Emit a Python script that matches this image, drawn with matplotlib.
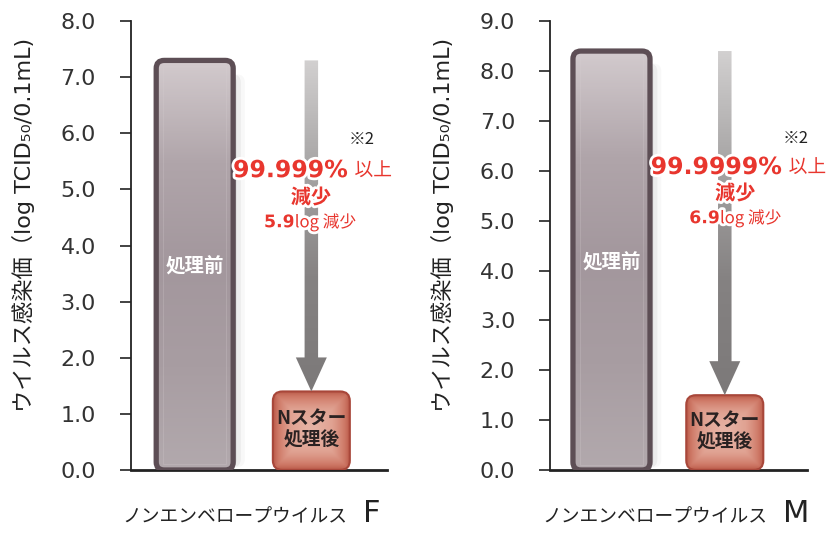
import numpy as np
import matplotlib.pyplot as plt
from matplotlib.patches import FancyBboxPatch, FancyArrow
from matplotlib.colors import LinearSegmentedColormap
import matplotlib.patheffects as pe

plt.rcParams['font.family'] = ['DejaVu Sans', 'Noto Sans CJK JP']
JP = ['Noto Sans CJK JP', 'DejaVu Sans']

# datos
viruses = ['F', 'M']
before = [7.3, 8.4]
after = [1.4, 1.5]
ymax = [8.0, 9.0]
pct_text = ['99.999%', '99.9999%']
log_text = ['5.9', '6.9']
xlabel_text = 'ノンエンベロープウイルス'
ylabel_text = 'ウイルス感染価（log TCID₅₀/0.1mL)'
bar_labels = ['処理前', 'Nスター\n処理後']

red = '#e8362e'
cm_bar1 = LinearSegmentedColormap.from_list('b1', ['#d2cacd', '#b0a5aa', '#a3979d', '#a89da2', '#b2a9ad'])
cm_arrow = LinearSegmentedColormap.from_list('ar', ['#d2d0d0', '#a6a4a4', '#858282', '#7c7979'])

fig = plt.figure(figsize=(8.27, 5.35), dpi=100)
axes = [fig.add_axes([0.158, 0.1215, 0.31, 0.839]),
        fig.add_axes([0.665, 0.1215, 0.311, 0.839])]
xlims = [(-0.549, 1.649), (-0.543, 1.727)]
barw = [0.66, 0.68]
txt_x = [0.703, 0.72]
pct_right = [0.848, 0.903]
pct_y = [0.668, 0.675]
mid_y = [0.608, 0.617]
log_y = [0.552, 0.561]
log_split = [0.64, 0.661]
note_pos = [(0.90, 0.737), (0.957, 0.739)]


def gradient_patch(ax, patch, img, cmap, extent, z):
    ax.add_patch(patch)
    im = ax.imshow(img, cmap=cmap, extent=extent, aspect='auto',
                   origin='upper', zorder=z, interpolation='bicubic')
    im.set_clip_path(patch)


for i, ax in enumerate(axes):
    ax.set_xlim(*xlims[i])
    ax.set_ylim(0, ymax[i])
    bb = ax.get_position()
    pxx = bb.width * 827 / (xlims[i][1] - xlims[i][0])
    pxy = bb.height * 535 / ymax[i]
    aspect = pxx / pxy
    w = barw[i]
    r = 8 / pxx

    # barra antes (gris)
    x0 = 0 - w / 2
    for k, a in enumerate([0.10, 0.07, 0.04]):
        sh = FancyBboxPatch((x0 + 0.03 + k * 0.035, 0.05), w, before[i] - 0.3,
                            boxstyle=f'round,pad=0,rounding_size={r}',
                            mutation_aspect=aspect, fc='#555555', ec='none',
                            alpha=a, zorder=1)
        ax.add_patch(sh)
    p1 = FancyBboxPatch((x0, 0), w, before[i],
                        boxstyle=f'round,pad=0,rounding_size={r}',
                        mutation_aspect=aspect, fc='none', ec='none', zorder=2)
    grad = np.linspace(0, 1, 200).reshape(-1, 1)
    gradient_patch(ax, p1, grad, cm_bar1, (x0, x0 + w, 0, before[i]), 2)
    ax.add_patch(FancyBboxPatch((x0, 0), w, before[i],
                                boxstyle=f'round,pad=0,rounding_size={r}',
                                mutation_aspect=aspect, fc='none',
                                ec='#5d4e55', lw=3.8, zorder=3))
    ax.add_patch(FancyBboxPatch((x0 + 0.06, 0.1), w - 0.12, before[i] - 0.2,
                                boxstyle='square,pad=0', fc='none',
                                ec='#d8d0d3', lw=0.5, alpha=0.35, zorder=3))

    # barra despues (roja)
    x1 = 1 - w / 2
    yy, xx = np.mgrid[0:1:120j, 0:1:120j]
    d = np.minimum(np.minimum(xx, 1 - xx) * 2.2, np.minimum(yy, 1 - yy) * 2.2)
    d = np.clip(d, 0, 1) ** 0.6
    cm_bar2 = LinearSegmentedColormap.from_list('b2', ['#b4503f', '#cf7a68', '#e0a292', '#e6b2a4'])
    p2 = FancyBboxPatch((x1, 0), w, after[i],
                        boxstyle=f'round,pad=0,rounding_size={r * 1.2}',
                        mutation_aspect=aspect, fc='none', ec='none', zorder=2)
    gradient_patch(ax, p2, d, cm_bar2, (x1, x1 + w, 0, after[i]), 2)
    ax.add_patch(FancyBboxPatch((x1, 0), w, after[i],
                                boxstyle=f'round,pad=0,rounding_size={r * 1.2}',
                                mutation_aspect=aspect, fc='none',
                                ec='#a8473a', lw=1.5, zorder=3))

    # flecha
    hl = 34 / pxy
    arr = FancyArrow(1, before[i], 0, -(before[i] - after[i]), width=13.5 / pxx,
                     head_width=31 / pxx, head_length=hl,
                     length_includes_head=True, fc='none', ec='none', zorder=4)
    gradient_patch(ax, arr, grad, cm_arrow, (0.5, 1.5, after[i], before[i]), 4)

    # textos
    ax.text(0, before[i] * 0.495, bar_labels[0], family=JP, fontsize=14,
            fontweight='bold', color='white', ha='center', va='center', zorder=5)
    ax.text(1, after[i] * 0.52, bar_labels[1], family=JP, fontsize=13.5,
            fontweight='bold', color='#2a2222', ha='center', va='center',
            linespacing=1.15, zorder=5)

    stroke = [pe.withStroke(linewidth=4, foreground='white')]
    ax.text(pct_right[i], pct_y[i], pct_text[i], transform=ax.transAxes,
            fontsize=17, fontweight='bold', color=red, ha='right', va='center',
            path_effects=stroke, zorder=6)
    ax.text(pct_right[i] + 0.025, pct_y[i], '以上', transform=ax.transAxes,
            family=JP, fontsize=13.5, color=red, ha='left', va='center',
            path_effects=stroke, zorder=6, clip_on=False)
    ax.text(txt_x[i], mid_y[i], '減少', transform=ax.transAxes, family=JP,
            fontsize=14.5, fontweight='bold', color=red, ha='center', va='center',
            path_effects=stroke, zorder=6)
    ax.text(log_split[i], log_y[i], log_text[i], transform=ax.transAxes,
            fontsize=12.5, fontweight='bold', color=red, ha='right', va='center',
            path_effects=stroke, zorder=6)
    ax.text(log_split[i], log_y[i], 'log 減少', transform=ax.transAxes,
            family=JP, fontsize=12, color=red, ha='left', va='center',
            path_effects=stroke, zorder=6)
    ax.text(*note_pos[i], '※2', transform=ax.transAxes, family=JP,
            fontsize=12, color='#222222', ha='center', va='center', zorder=6)

    # ejes
    ax.spines['top'].set_visible(False)
    ax.spines['right'].set_visible(False)
    ax.spines['left'].set_linewidth(1.3)
    ax.spines['bottom'].set_linewidth(2)
    ax.spines['left'].set_color('#222222')
    ax.spines['bottom'].set_color('#222222')
    ax.set_xticks([])
    ax.set_yticks(np.arange(0, ymax[i] + 0.5, 1.0))
    ax.set_yticklabels([f'{v:.1f}' for v in np.arange(0, ymax[i] + 0.5, 1.0)])
    ax.tick_params(axis='y', length=8, width=1.2, color='#222222',
                   labelsize=16, labelcolor='#333333', pad=17)
    ax.set_ylabel(ylabel_text, fontsize=16, color='#222222')
    ax.yaxis.set_label_coords(-0.375, 0.545)
    ax.text(0.844, -0.105, xlabel_text, transform=ax.transAxes, family=JP,
            fontsize=13.5, color='#222222', ha='right', va='center')
    ax.text(0.905, -0.098, viruses[i], transform=ax.transAxes,
            fontsize=22, color='#222222', ha='left', va='center')
    ax.set_xlim(*xlims[i])
    ax.set_ylim(0, ymax[i])

fig.savefig('out.png', dpi=100)
